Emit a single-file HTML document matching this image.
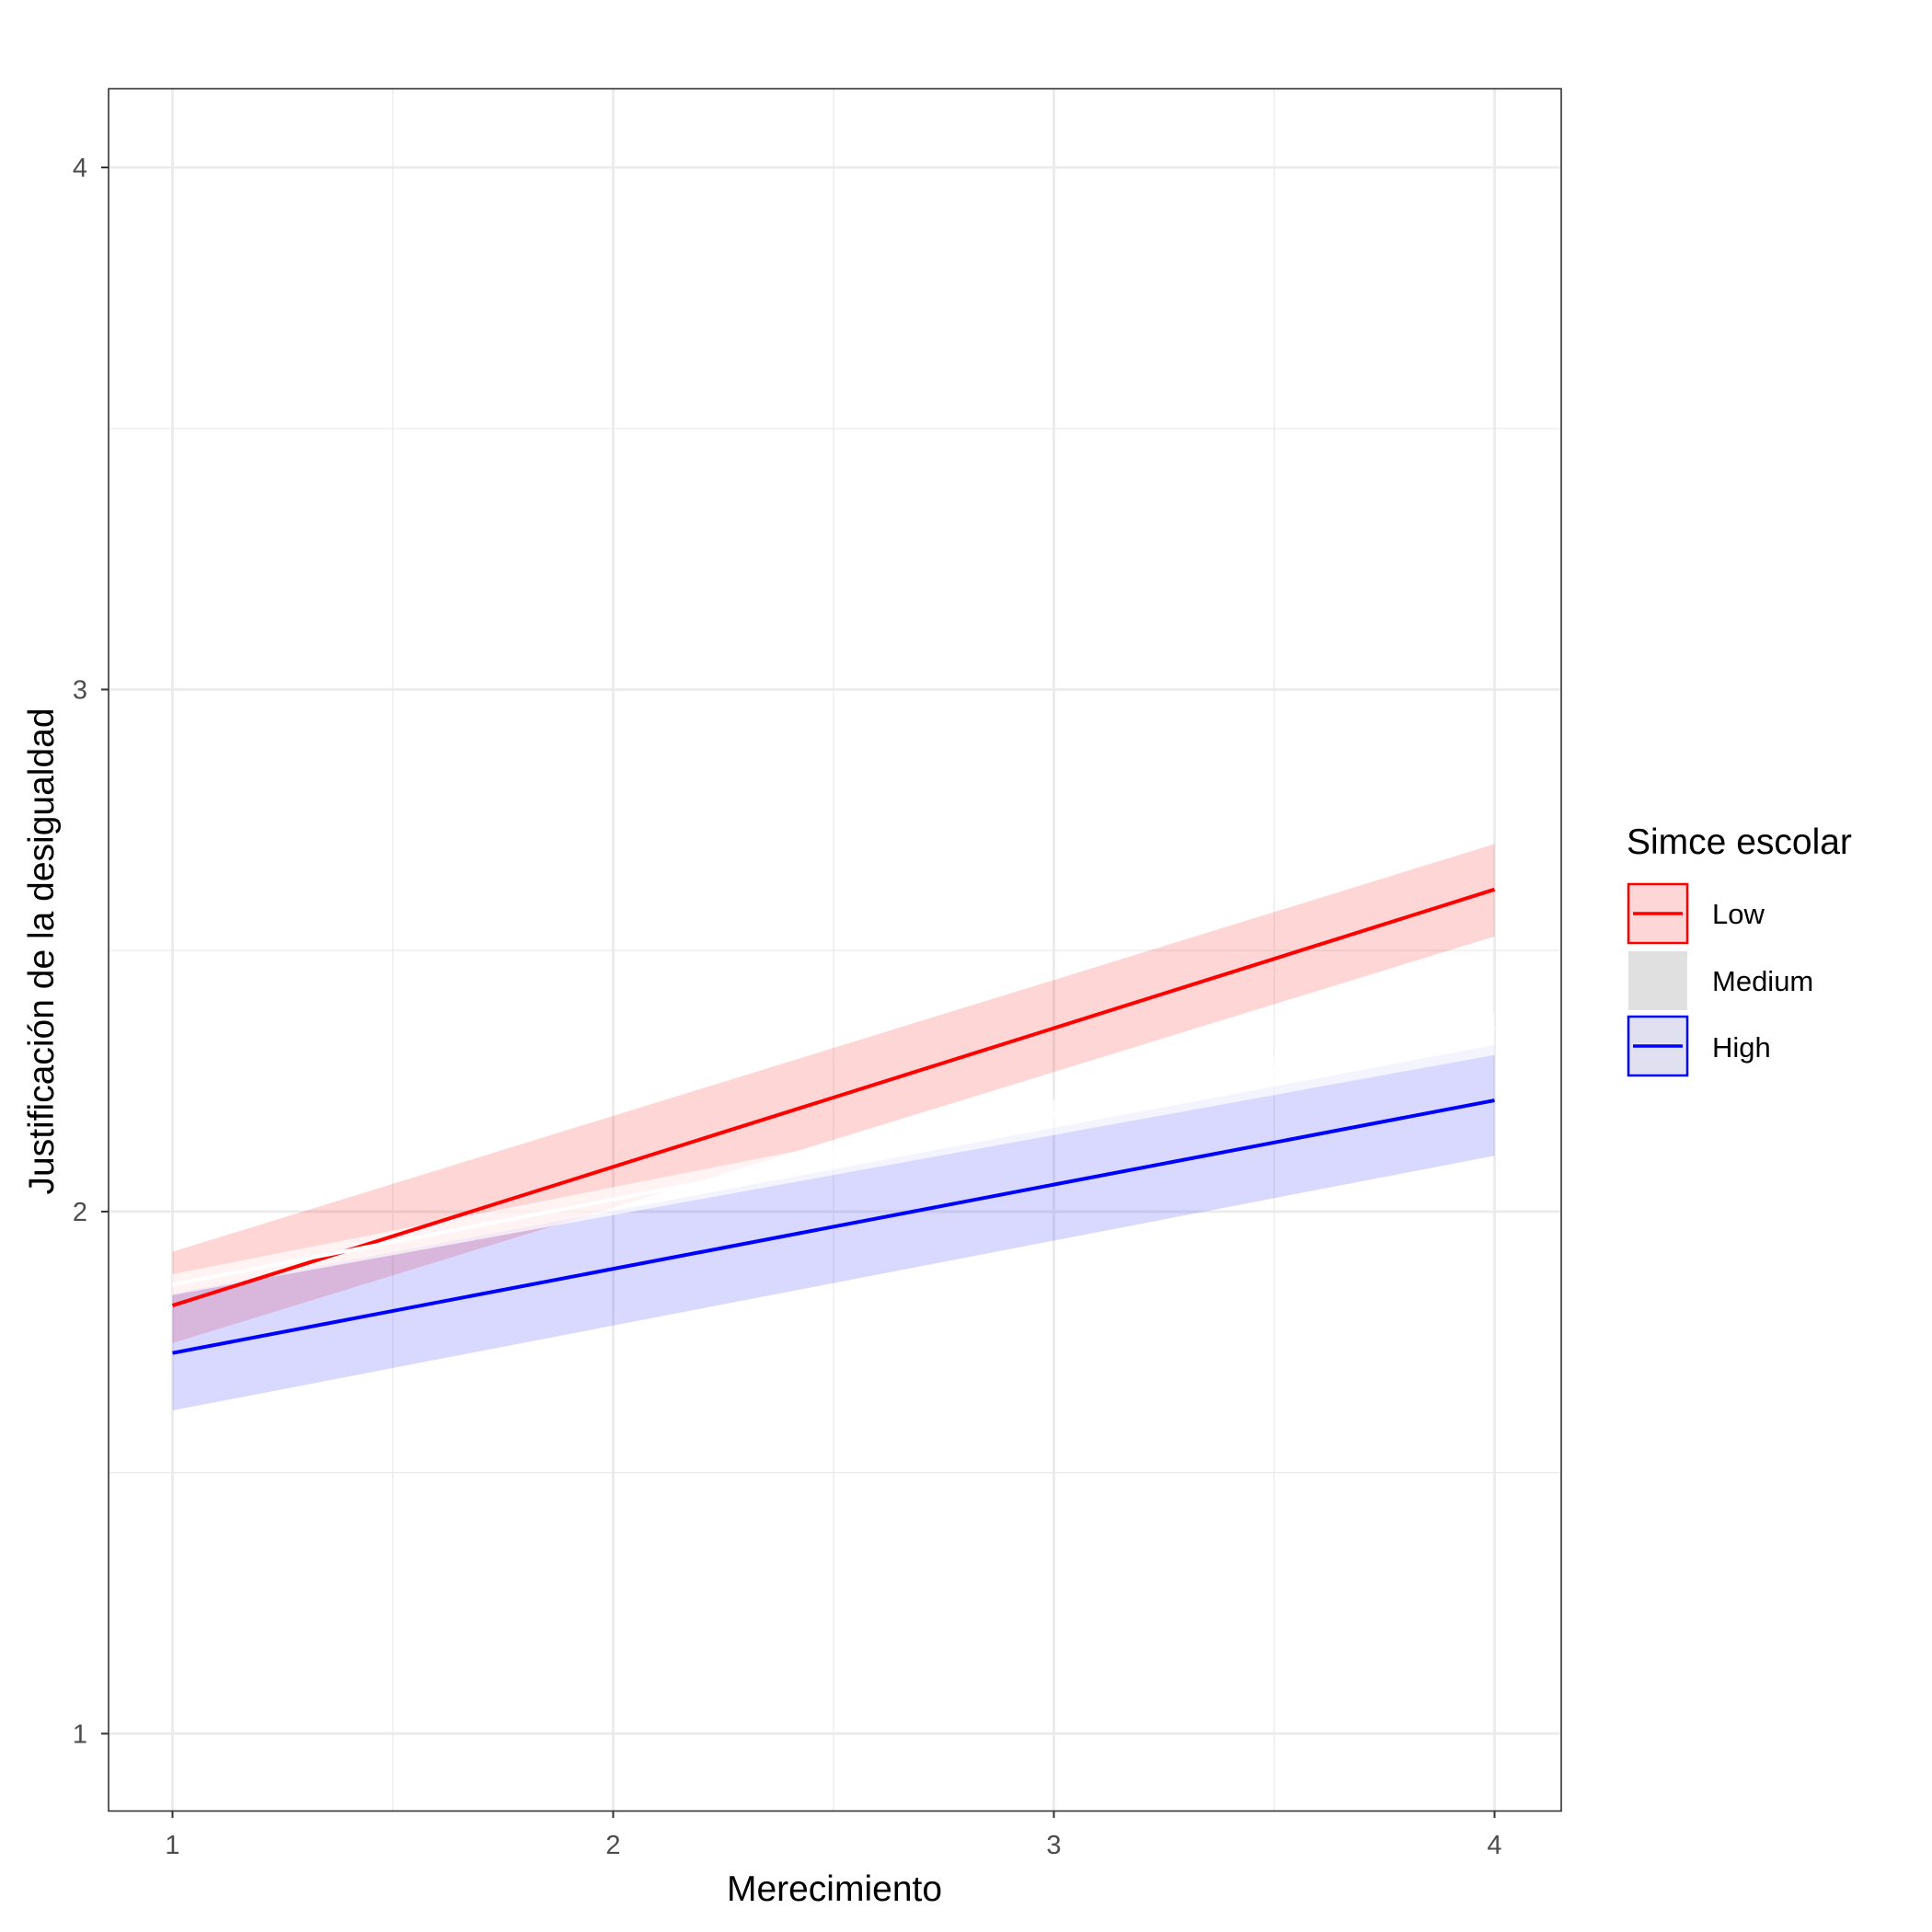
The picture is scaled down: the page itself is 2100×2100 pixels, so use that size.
<!DOCTYPE html>
<html><head><meta charset="utf-8"><style>
body{margin:0;background:#fff}
svg{display:block;font-family:"Liberation Sans",Arial,sans-serif}
</style></head><body>
<svg id="chart" width="2100" height="2100" viewBox="0 0 2100 2100" xmlns="http://www.w3.org/2000/svg">
<rect width="2100" height="2100" fill="#fff"/>
<g id="grid"></g>
<g id="series"></g>
<rect x="118" y="96.5" width="1579" height="1872" fill="none" stroke="#333" stroke-width="1.6"/>
<g id="axes"></g>
<text x="907" y="2066" font-size="39" text-anchor="middle" fill="#000">Merecimiento</text>
<text transform="translate(58,1034) rotate(-90)" font-size="39" text-anchor="middle" fill="#000">Justificación de la desigualdad</text>
<g>
<text x="1768" y="928" font-size="39" fill="#000">Simce escolar</text>
<g>
<rect x="1770" y="961" width="64" height="64" fill="#fdd6d8" stroke="#ff0000" stroke-width="2.5"/>
<line x1="1775" y1="993" x2="1829" y2="993" stroke="#ff0000" stroke-width="3.5"/>
<text x="1861" y="1004" font-size="31" fill="#000">Low</text></g>
<g>
<rect x="1770" y="1034" width="64" height="64" fill="#e0e0e0"/>
<text x="1861" y="1077" font-size="31" fill="#000">Medium</text></g>
<g>
<rect x="1770" y="1105" width="64" height="64" fill="#e0e0f0" stroke="#0000ff" stroke-width="2.5"/>
<line x1="1775" y1="1137" x2="1829" y2="1137" stroke="#0000ff" stroke-width="3.5"/>
<text x="1861" y="1149" font-size="31" fill="#000">High</text></g>
</g>
</svg>
<script>
const xTicks=[1,2,3,4];
const yTicks=[1,2,3,4];
const xMinor=[1.5,2.5,3.5];
const yMinor=[1.5,2.5,3.5];
const xEnds=[1,4];
const lowFit=[1.82,2.617];
const lowUpper=[1.923,2.704];
const lowLower=[1.748,2.527];
const medFit=[1.86,2.35];
const medUpper=[1.88,2.38];
const medLower=[1.84,2.30];
const highFit=[1.729,2.213];
const highUpper=[1.843,2.319];
const highLower=[1.619,2.107];

const NS="http://www.w3.org/2000/svg";
const xs=v=>187.5+(v-1)*(1624.5-187.5)/3;
const ys=v=>1884.4-(v-1)*(1884.4-182)/3;
function mk(tag,attrs,parent){const e=document.createElementNS(NS,tag);for(const k in attrs)e.setAttribute(k,attrs[k]);parent.appendChild(e);return e;}
const grid=document.getElementById('grid'),series=document.getElementById('series'),axes=document.getElementById('axes');
xMinor.forEach(v=>{const l=mk('line',{x1:xs(v),x2:xs(v),y1:96.5,y2:1968.5,stroke:'#ebebeb','stroke-width':1.3},grid);

});
yMinor.forEach(v=>{const l=mk('line',{x1:118,x2:1697,y1:ys(v),y2:ys(v),stroke:'#ebebeb','stroke-width':1.3},grid);

});
xTicks.forEach(v=>{const l=mk('line',{x1:xs(v),x2:xs(v),y1:96.5,y2:1968.5,stroke:'#ebebeb','stroke-width':2.8},grid);


const t=mk('line',{x1:xs(v),x2:xs(v),y1:1968.5,y2:1976,stroke:'#333','stroke-width':2},axes);


const tx=mk('text',{x:xs(v),y:2015,'font-size':29,'text-anchor':'middle',fill:'#4d4d4d'},axes);tx.textContent=v;

});
yTicks.forEach(v=>{const l=mk('line',{x1:118,x2:1697,y1:ys(v),y2:ys(v),stroke:'#ebebeb','stroke-width':2.8},grid);


const t=mk('line',{x1:110,x2:118,y1:ys(v),y2:ys(v),stroke:'#333','stroke-width':2},axes);


const tx=mk('text',{x:95,y:ys(v)+10,'font-size':29,'text-anchor':'end',fill:'#4d4d4d'},axes);tx.textContent=v;

});
function band(up,lo,fill,op,name){const p=mk('polygon',{points:`${xs(xEnds[0])},${ys(up[0])} ${xs(xEnds[1])},${ys(up[1])} ${xs(xEnds[1])},${ys(lo[1])} ${xs(xEnds[0])},${ys(lo[0])}`,fill:fill,'fill-opacity':op},series);

}
function line(f,col,name){const l=mk('line',{x1:xs(xEnds[0]),y1:ys(f[0]),x2:xs(xEnds[1]),y2:ys(f[1]),stroke:col,'stroke-width':4},series);

}
band(lowUpper,lowLower,'#ff0000',0.16,'low-ribbon');
band(highUpper,highLower,'#0000ff',0.15,'high-ribbon');
band(medUpper,medLower,'#ffffff',0.7,'medium-ribbon');
line(lowFit,'#ff0000','low-line');
line(medFit,'#ffffff','medium-line');
line(highFit,'#0000ff','high-line');
</script>
</body></html>
